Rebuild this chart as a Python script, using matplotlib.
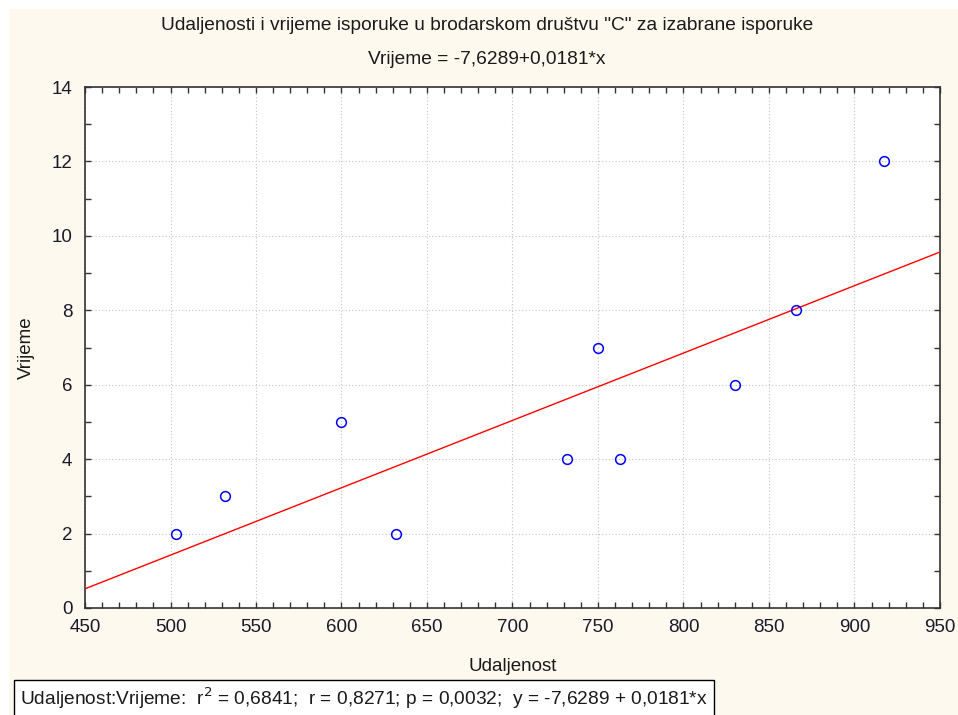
import matplotlib
matplotlib.use("Agg")
import matplotlib.pyplot as plt
import numpy as np
from matplotlib.ticker import MultipleLocator
from matplotlib.patches import Rectangle

plt.rcParams['font.family'] = ['Liberation Sans', 'DejaVu Sans']

udaljenost = [503, 532, 600, 632, 732, 750, 763, 830, 866, 917]
vrijeme = [2, 3, 5, 2, 4, 7, 4, 6, 8, 12]
intercept = -7.6289
slope = 0.0181
x_range = [450, 950]

title = 'Udaljenosti i vrijeme isporuke u brodarskom društvu "C" za izabrane isporuke'
subtitle = 'Vrijeme = -7,6289+0,0181*x'
stats_text = r'Udaljenost:Vrijeme:  r$^2$ = 0,6841;  r = 0,8271; p = 0,0032;  y = -7,6289 + 0,0181*x'

bg = '#FEF9EF'
fig = plt.figure(figsize=(9.58, 7.15), dpi=100, facecolor=bg)
# white strips at top and left
fig.patches.append(Rectangle((0, 1 - 8/715), 1, 8/715, transform=fig.transFigure, color='white', zorder=0))
fig.patches.append(Rectangle((0, 0), 8/958, 1, transform=fig.transFigure, color='white', zorder=0))

ax = fig.add_axes([85/958, 1 - 608/715, 855/958, 521/715])
ax.set_facecolor('white')

xl = np.array(x_range)
ax.plot(xl, intercept + slope * xl, color='#FF0000', lw=1.0, zorder=3)
ax.plot(udaljenost, vrijeme, 'o', mfc='none', mec='#0000FF', ms=7, mew=1.1, zorder=4)

ax.set_xlim(450, 950)
ax.set_ylim(0, 14)
ax.xaxis.set_major_locator(MultipleLocator(50))
ax.xaxis.set_minor_locator(MultipleLocator(10))
ax.yaxis.set_major_locator(MultipleLocator(2))
ax.yaxis.set_minor_locator(MultipleLocator(1))
ax.tick_params(which='both', direction='in', top=True, right=True, length=4, width=1, color='#333333',
               labelsize=13.5, labelcolor='#1a1a2a')
ax.tick_params(axis='x', pad=8)
ax.tick_params(axis='y', pad=9)
ax.grid(True, which='major', color='#C4C4C4', linestyle=(0, (1, 2)), lw=0.8)
for s in ax.spines.values():
    s.set_color('#333333')
    s.set_linewidth(1.2)

ax.set_xlabel('Udaljenost', fontsize=13.5, labelpad=16, color='#1a1a1a')
ax.set_ylabel('Vrijeme', fontsize=13.5, labelpad=12, color='#1a1a1a')

fig.text(487/958, 1 - 26/715, title, ha='center', va='center', fontsize=13.8, color='#1a1a1a')
fig.text(487/958, 1 - 60/715, subtitle, ha='center', va='center', fontsize=13.8, color='#1a1a1a')

fig.text(20/958, 1 - 698/715, stats_text, ha='left', va='center', fontsize=13.8, color='#1a1a1a',
         bbox=dict(boxstyle='square,pad=0.3', fc='white', ec='black', lw=1))

fig.savefig('out.png', dpi=100, facecolor=bg)
